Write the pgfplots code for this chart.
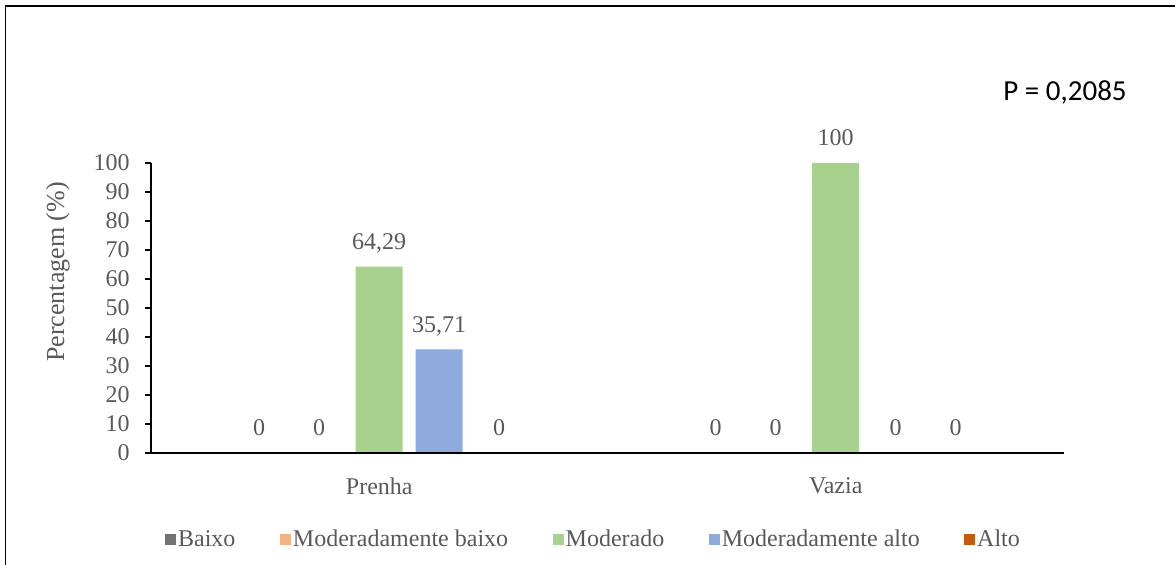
\documentclass[border=0pt,12pt]{standalone}
\usepackage{fontspec}
\setmainfont{Liberation Serif}
\newfontfamily\calibri{Carlito}
\usepackage{pgfplots}
\pgfplotsset{compat=1.18}

\definecolor{txtgray}{HTML}{595959}
\definecolor{cBaixo}{HTML}{767171}
\definecolor{cModBaixo}{HTML}{F4B183}
\definecolor{cModerado}{HTML}{A9D18E}
\definecolor{cModAlto}{HTML}{8FAADC}
\definecolor{cAlto}{HTML}{C55A11}

\begin{document}
\begin{tikzpicture}
\useasboundingbox (0,0) rectangle (587.5pt,282.5pt);
% outer frame of the figure
\draw[line width=0.8pt] (2.75pt,-2pt) -- (2.75pt,279.5pt) -- (590pt,279.5pt);
\begin{axis}[
  at={(75.5pt,56pt)}, anchor=south west,
  scale only axis, width=456.5pt, height=145pt,
  xmin=-0.5, xmax=1.5, ymin=0, ymax=100,
  axis x line=bottom, axis y line=left, axis on top,
  axis line style={-, line width=0.8pt, black},
  ybar=6.5pt, bar width=23.5pt,
  xtick={0,1}, xticklabels={Prenha,Vazia},
  x tick style={draw=none},
  ytick={0,10,...,100},
  tick align=outside, y tick style={black, line width=0.8pt}, major tick length=3pt,
  tick label style={text=txtgray},
  xticklabel style={yshift=-5pt},
  yticklabel style={xshift=-3.5pt},
  /pgf/number format/.cd, use comma, assume math mode=true, 1000 sep={},
  /pgfplots/.cd,
  every axis y label/.style={at={(axis description cs:-0.1019,0.624)}, rotate=90, anchor=center},
  ylabel={Percentagem (\%)},
  ylabel style={text=txtgray, font=\fontsize{13}{15}\selectfont},
  nodes near coords,
  every node near coord/.append style={text=txtgray, anchor=base, yshift=8.5pt, inner sep=0pt},
  legend style={at={(axis description cs:0.4847,-0.30)}, anchor=center, draw=none,
    legend columns=5, text=txtgray, nodes={inner sep=1pt},
    /tikz/every even column/.append style={column sep=21.25pt}},
  legend image code/.code={\fill[#1] (0pt,-2.75pt) rectangle (5.5pt,2.75pt);},
]
\addplot[fill=cBaixo, draw=none] coordinates {(0,0) (1,0)};
\addplot[fill=cModBaixo, draw=none] coordinates {(0,0) (1,0)};
\addplot[fill=cModerado, draw=none] coordinates {(0,64.29) (1,100)};
\addplot[fill=cModAlto, draw=none] coordinates {(0,35.71) (1,0)};
\addplot[fill=cAlto, draw=none] coordinates {(0,0) (1,0)};
\legend{Baixo, Moderadamente baixo, Moderado, Moderadamente alto, Alto}
\end{axis}
\node[font=\calibri\fontsize{14.5}{17}\selectfont, anchor=center] at (532.5pt,236.5pt) {P = 0,2085};
\end{tikzpicture}
\end{document}
